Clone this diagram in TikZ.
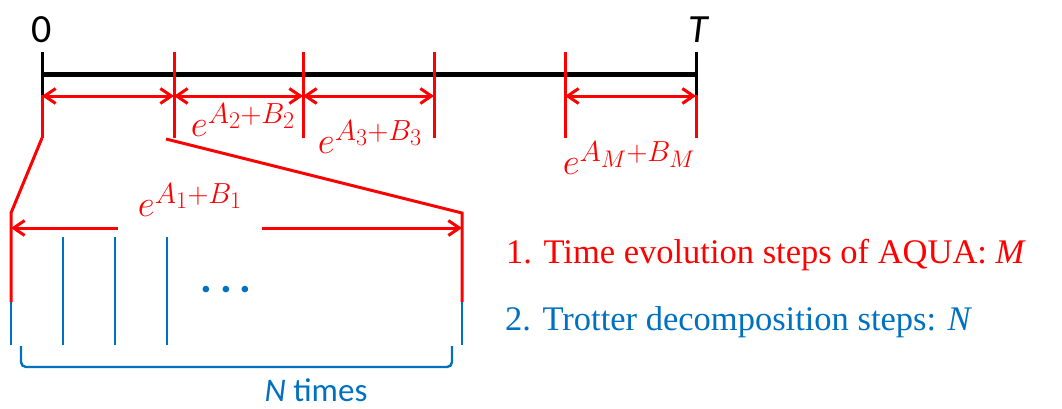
\RequirePackage{fix-cm}
\documentclass[tikz,border=0pt]{standalone}
\usepackage{fontspec}
\setmainfont{Liberation Serif}
\newfontfamily\calib{Carlito}
\usetikzlibrary{arrows.meta}
\definecolor{myred}{RGB}{255,0,0}
\definecolor{myblue}{RGB}{0,112,192}
\DeclareMathSizes{37}{37}{29}{24}
\begin{document}
\begin{tikzpicture}[x=1pt,y=-1pt,
  redline/.style={draw=myred,line width=3pt},
  blueline/.style={draw=myblue,line width=2.6pt},
  blackline/.style={draw=black,line width=3pt},
  dbl/.style={redline,{Straight Barb[length=11pt,width=15pt,line width=3pt]}-{Straight Barb[length=11pt,width=15pt,line width=3pt]}},
  lft/.style={redline,{Straight Barb[length=11pt,width=15pt,line width=3pt]}-},
  rgt/.style={redline,-{Straight Barb[length=11pt,width=15pt,line width=3pt]}},
  mlabel/.style={text=myred,font=\fontsize{37}{42}\selectfont,inner sep=0pt},
  slabel/.style={font=\calib\fontsize{40}{46}\selectfont,inner sep=0pt},
  legend/.style={anchor=west,font=\fontsize{34.5}{40}\selectfont,inner sep=0pt}]
\useasboundingbox (0,0) rectangle (1062,408);
% ticks coordinates
\coordinate (s0) at (42,52);
\coordinate (m0) at (42,95);
\coordinate (b0) at (42,138);
\coordinate (sT) at (696,52);
\coordinate (mT) at (696,95);
\coordinate (bT) at (696,138);
\foreach \n/\x in {1/174,2/303,3/434,4/565}{
  \coordinate (s\n) at (\x,52);
  \coordinate (b\n) at (\x,138);
}
% timeline
\draw[draw=black,line width=5pt] (42,74) coordinate (L0) -- (696,74) coordinate (LT);
\draw[blackline] (s0) -- (m0);
\draw[blackline] (sT) -- (mT);
\draw[redline] (m0) -- (b0);
\draw[redline] (mT) -- (bT);
\foreach \n in {1,2,3,4}{\draw[redline] (s\n) -- (b\n);}
% labels 0 and T
\node[slabel] (zero) at (42,30) {0};
\node[slabel] (tee) at (698,30) {\itshape T};
% arrows
\coordinate (a0) at (42,96); \coordinate (a1) at (174,96);
\coordinate (a2) at (303,96); \coordinate (a3) at (434,96);
\coordinate (a4) at (565,96); \coordinate (aT) at (696,96);
\draw[dbl] (a0) -- (a1);
\draw[dbl] (a1) -- (a2);
\draw[dbl] (a2) -- (a3);
\draw[dbl] (a4) -- (aT);
\node[mlabel] (l2) at (243,120) {$e^{A_2+B_2}$};
\node[mlabel] (l3) at (370,137) {$e^{A_3+B_3}$};
\node[mlabel] (lM) at (629,158) {$e^{A_M+B_M}$};
% zoom
\coordinate (z0) at (11,213);
\coordinate (zr) at (166,139);
\coordinate (z1) at (462,213);
\coordinate (z0m) at (11,302);
\coordinate (z1m) at (462,302);
\coordinate (z0b) at (11,345);
\coordinate (z1b) at (462,345);
\draw[redline] (b0) -- (z0) -- (z0m);
\draw[redline] (zr) -- (z1) -- (z1m);
\draw[blueline] (z0m) -- (z0b);
\draw[blueline] (z1m) -- (z1b);
\coordinate (e0) at (11,228); \coordinate (e0r) at (118,228);
\coordinate (e1l) at (262,228); \coordinate (e1) at (462,228);
\draw[lft] (e0) -- (e0r);
\draw[rgt] (e1l) -- (e1);
\node[mlabel] (l1) at (190,200) {$e^{A_1+B_1}$};
\foreach \n/\x in {1/63,2/115,3/167}{
  \draw[blueline] (\x,237) coordinate (p\n) -- (\x,345) coordinate (q\n);
}
\node[text=myblue,inner sep=0pt,font=\calib\bfseries\fontsize{44}{50}\selectfont] (dots) at (226,290) {.\hspace{8pt}.\hspace{8pt}.};
% brace
\coordinate (br0) at (21,346); \coordinate (br1) at (452,346);
\draw[blueline,line width=2.4pt,rounded corners=5pt] (br0) -- (21,367) -- (452,367) -- (br1);
\node[text=myblue,font=\calib\fontsize{33}{38}\selectfont,inner sep=0pt] (nt) at (316,390) {\itshape N\upshape\ times};
% legend
\node[legend,text=myred] (leg1) at (506,255) {1. Time evolution steps of AQUA: \textit{M}};
\node[legend,text=myblue] (leg2) at (505,322) {2. Trotter decomposition steps: \textit{N}};
\end{tikzpicture}
\end{document}
